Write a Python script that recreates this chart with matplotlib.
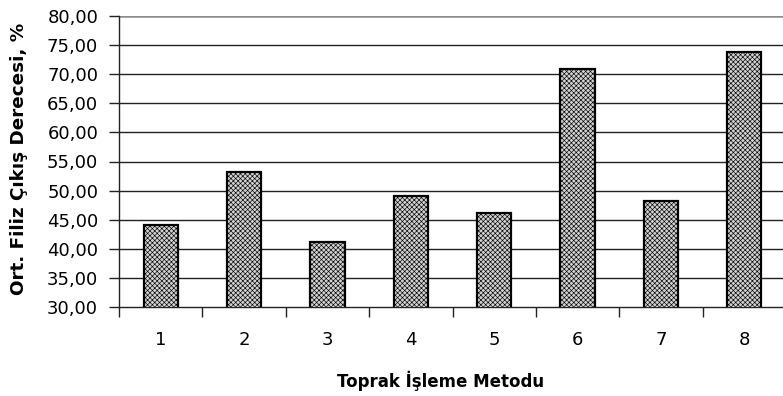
import matplotlib
matplotlib.use("Agg")
import matplotlib.pyplot as plt
from matplotlib.ticker import FuncFormatter, FixedLocator

plt.rcParams['font.family'] = ['DejaVu Sans']
plt.rcParams['hatch.color'] = '#ababab'
plt.rcParams['hatch.linewidth'] = 0.45

categories = [1, 2, 3, 4, 5, 6, 7, 8]
values = [44.1, 53.2, 41.1, 49.1, 46.1, 70.9, 48.2, 73.8]
yticks = [30, 35, 40, 45, 50, 55, 60, 65, 70, 75, 80]

W, H = 783, 396
fig = plt.figure(figsize=(W / 100, H / 100), dpi=100)
left, right, top, bottom = 119, 786, 16, 307
ax = fig.add_axes([left / W, 1 - bottom / H, (right - left) / W, (bottom - top) / H])

ax.bar(categories, values, width=0.41, bottom=0, color='#d2d2d2',
       edgecolor='black', linewidth=1.6, hatch='xxxxxxx', zorder=3)

ax.set_xlim(0.5, 8.5)
ax.set_ylim(30, 80)
ax.yaxis.set_major_locator(FixedLocator(yticks))
ax.yaxis.set_major_formatter(FuncFormatter(lambda v, p: f"{v:.2f}".replace('.', ',')))
ax.set_xticks(categories)
ax.set_xticks([c + 0.5 for c in [0] + categories], minor=True)

for y in yticks[1:-1]:
    ax.axhline(y, color='#222222', linewidth=1.0, zorder=1)
ax.axhline(80, color='#8c8c8c', linewidth=1.8, zorder=1)

for s in ['top', 'right']:
    ax.spines[s].set_visible(False)
ax.spines['left'].set_color('#222222')
ax.spines['bottom'].set_color('#222222')
ax.spines['left'].set_linewidth(1.0)
ax.spines['bottom'].set_linewidth(1.0)

ax.tick_params(axis='y', direction='out', length=7, width=1, labelsize=13, pad=8, color='#222222')
ax.tick_params(axis='x', which='major', length=0, labelsize=13, pad=17)
ax.tick_params(axis='x', which='minor', direction='out', length=7, width=1, color='#222222')

fig.text(19 / W, 1 - 159 / H, 'Ort. Filiz Çıkış Derecesi, %', rotation=90,
         ha='center', va='center', fontsize=13.2, fontweight='bold')
fig.text(441 / W, 1 - 381 / H, 'Toprak İşleme Metodu', ha='center', va='center',
         fontsize=12, fontweight='bold')

fig.savefig('out.png', dpi=100)
